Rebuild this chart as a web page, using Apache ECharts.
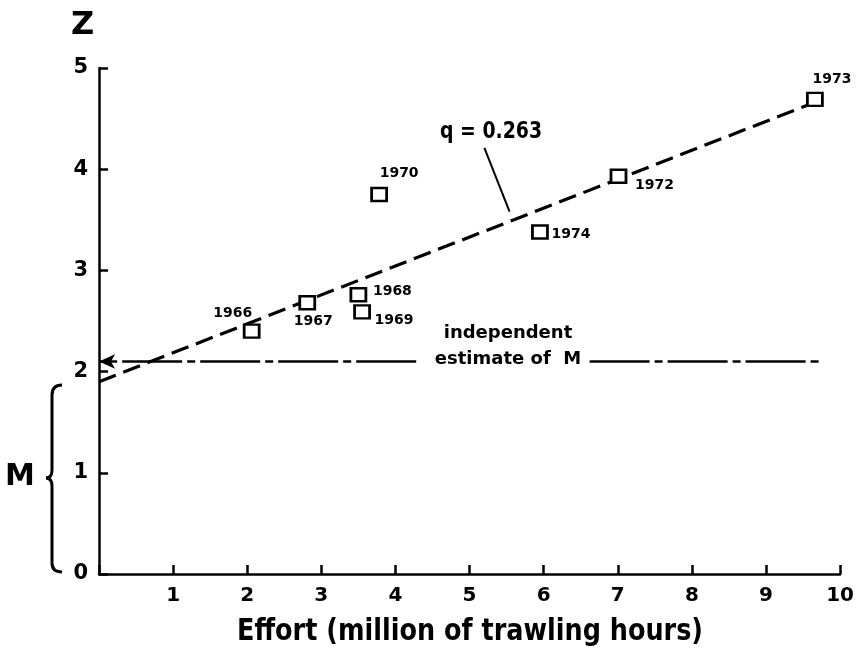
<!DOCTYPE html>
<html>
<head>
<meta charset="utf-8">
<script src="https://cdn.jsdelivr.net/npm/echarts@6/dist/echarts.min.js"></script>
<style>
  html, body { margin: 0; padding: 0; background: #fff; }
  #chart { width: 857px; height: 649px; }
</style>
</head>
<body>
<div id="chart"></div>
<script>
// Yearly observations: fishing effort (million trawling hours) vs total mortality Z
const years  = ['1966', '1967', '1968', '1969', '1970', '1972', '1973', '1974'];
const effort = [2.06, 2.81, 3.50, 3.55, 3.78, 7.01, 9.66, 5.95];
const zValue = [2.40, 2.68, 2.76, 2.59, 3.75, 3.93, 4.69, 3.38];

// Label placement around each square (pixel offsets from the marker centre)
const labelOffsets = [[-19, -18], [6, 19], [34, -3], [32, 8], [20, -21], [36, 9], [17, -20], [31, 2]];

// Fitted line Z = M + qf (end points) and the leader to its slope label
const fitX = [0, 9.55];
const fitZ = [1.90, 4.63];
const leaderX = [5.20, 5.54];
const leaderZ = [4.21, 3.58];

// Independent estimate of M, drawn on either side of its caption
const mEstimate = 2.1;
const mLeftX  = [0, 4.28];
const mRightX = [6.62, 9.77];

const xTicks = [0, 1, 2, 3, 4, 5, 6, 7, 8, 9, 10];
const yTicks = [0, 1, 2, 3, 4, 5];

const FONT = 'DejaVu Sans';
const chart = echarts.init(document.getElementById('chart'), null, { renderer: 'canvas' });

const pointData = years.map((y, i) => ({
  value: [effort[i], zValue[i]],
  label: {
    show: true,
    formatter: y,
    position: 'inside',
    offset: labelOffsets[i]
  }
}));

// Curly brace grouping the M range on the left
const braceStyle = { fill: 'none', stroke: '#000', lineWidth: 3 };
const brace = [
  { type: 'bezierCurve', shape: { x1: 62, y1: 385, cpx1: 52, cpy1: 385, x2: 52, y2: 395 }, style: braceStyle },
  { type: 'line', shape: { x1: 52, y1: 395, x2: 52, y2: 470 }, style: braceStyle },
  { type: 'bezierCurve', shape: { x1: 52, y1: 470, cpx1: 52, cpy1: 478, x2: 46, y2: 478 }, style: braceStyle },
  { type: 'bezierCurve', shape: { x1: 46, y1: 478, cpx1: 52, cpy1: 478, x2: 52, y2: 486 }, style: braceStyle },
  { type: 'line', shape: { x1: 52, y1: 486, x2: 52, y2: 563 }, style: braceStyle },
  { type: 'bezierCurve', shape: { x1: 52, y1: 563, cpx1: 52, cpy1: 572, x2: 62, y2: 572 }, style: braceStyle }
];

chart.setOption({
  animation: false,
  backgroundColor: '#ffffff',
  grid: { left: 99, right: 12, top: 68, bottom: 75 },
  xAxis: {
    type: 'value',
    min: xTicks[0], max: xTicks[xTicks.length - 1], interval: 1,
    axisLine: { show: true, lineStyle: { color: '#000', width: 2.5 } },
    axisTick: { show: true, inside: true, length: 9, lineStyle: { color: '#000', width: 2.5 } },
    axisLabel: {
      color: '#000', fontFamily: FONT, fontWeight: 'bold', fontSize: 20, margin: 12,
      formatter: v => (v === 0 ? '' : String(v))
    },
    splitLine: { show: false }
  },
  yAxis: {
    type: 'value',
    min: yTicks[0], max: yTicks[yTicks.length - 1], interval: 1,
    axisLine: { show: true, lineStyle: { color: '#000', width: 2.5 } },
    axisTick: { show: true, inside: true, length: 9, lineStyle: { color: '#000', width: 2.5 } },
    axisLabel: {
      color: '#000', fontFamily: FONT, fontWeight: 'bold', fontSize: 21, margin: 11,
      padding: [12, 0, 0, 0]
    },
    splitLine: { show: false }
  },
  series: [
    {
      name: 'fit',
      type: 'line',
      data: fitX.map((x, i) => [x, fitZ[i]]),
      showSymbol: false, symbol: 'none', silent: true,
      lineStyle: { color: '#000', width: 3.2, type: [18, 8] },
      z: 2
    },
    {
      name: 'leader',
      type: 'line',
      data: leaderX.map((x, i) => [x, leaderZ[i]]),
      showSymbol: false, symbol: 'none', silent: true,
      lineStyle: { color: '#000', width: 2 },
      z: 2
    },
    {
      name: 'M estimate',
      type: 'line',
      data: [],
      silent: true,
      markLine: {
        silent: true,
        animation: false,
        label: { show: false },
        lineStyle: { color: '#000', width: 2.5, type: [60, 5, 8, 5] },
        data: [
          [
            { coord: [mLeftX[1], mEstimate], symbol: 'none' },
            { coord: [mLeftX[0], mEstimate], symbol: 'arrow', symbolSize: [11, 16] }
          ],
          [
            { coord: [mRightX[0], mEstimate], symbol: 'none' },
            { coord: [mRightX[1], mEstimate], symbol: 'none' }
          ]
        ]
      }
    },
    {
      name: 'years',
      type: 'scatter',
      data: pointData,
      symbol: 'rect',
      symbolSize: [15, 13],
      itemStyle: { color: '#fff', borderColor: '#000', borderWidth: 2.6, opacity: 1 },
      label: {
        color: '#000', fontFamily: FONT, fontWeight: 'bold', fontSize: 14,
        align: 'center', verticalAlign: 'middle', opacity: 1
      },
      emphasis: { disabled: true },
      z: 5
    }
  ],
  graphic: [
    {
      type: 'text', left: 71, top: 10,
      style: { text: 'Z', fill: '#000', font: 'bold 32px "DejaVu Sans"' }
    },
    {
      type: 'text', left: 5, top: 462,
      style: { text: 'M', fill: '#000', font: 'bold 30px "DejaVu Sans"' }
    },
    ...brace,
    {
      type: 'text', x: 491, y: 132,
      style: { text: 'q = 0.263', fill: '#000', font: 'bold 23px "DejaVu Sans"', align: 'center', verticalAlign: 'middle' },
      scaleX: 0.82
    },
    {
      type: 'text', x: 508, y: 333,
      style: { text: 'independent', fill: '#000', font: 'bold 18px "DejaVu Sans"', align: 'center', verticalAlign: 'middle' }
    },
    {
      type: 'text', x: 508, y: 359,
      style: { text: 'estimate of  M', fill: '#000', font: 'bold 18px "DejaVu Sans"', align: 'center', verticalAlign: 'middle' }
    },
    {
      type: 'text', x: 470, y: 632,
      style: { text: 'Effort (million of trawling hours)', fill: '#000', font: 'bold 30px "DejaVu Sans"', align: 'center', verticalAlign: 'middle' },
      scaleX: 0.85
    }
  ]
});
</script>
</body>
</html>
